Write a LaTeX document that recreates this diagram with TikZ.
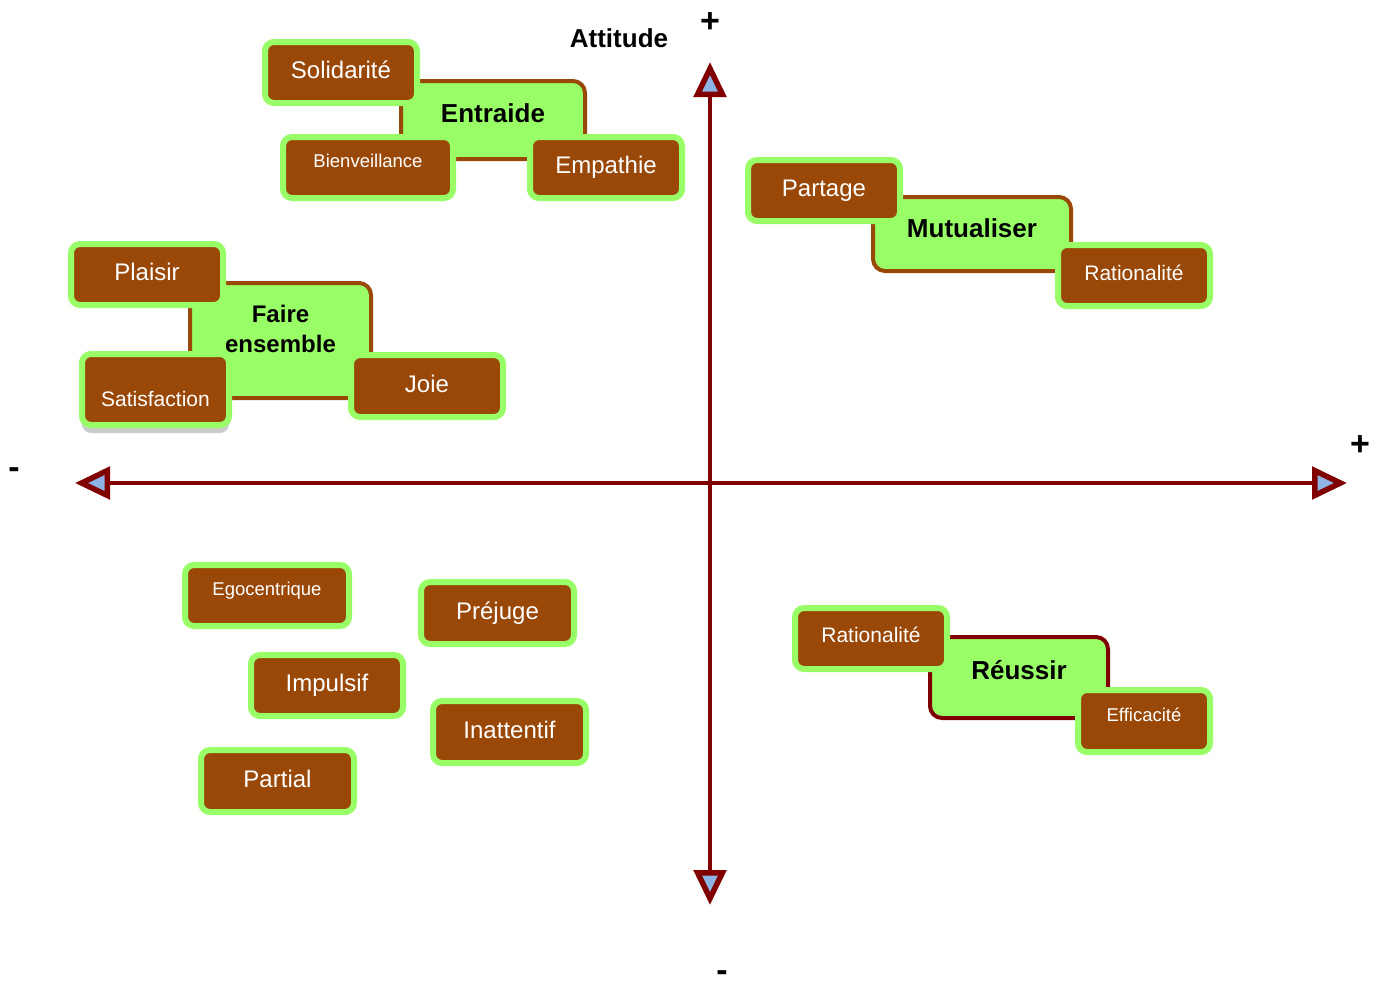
\documentclass[tikz,border=0pt]{standalone}
\usepackage{fontspec}
\setmainfont{Liberation Sans}
\usepackage{xcolor}
\usetikzlibrary{arrows.meta}
\usetikzlibrary{shadows}
\definecolor{boxbrown}{RGB}{153,72,8}
\definecolor{boxgreen}{RGB}{153,255,102}
\definecolor{axisred}{RGB}{128,0,0}
\definecolor{tipblue}{RGB}{141,180,227}
\tikzset{ trait/.style = {rectangle, rounded corners=9pt, draw=boxgreen, line width=6pt, fill=boxbrown, text=white, inner sep=0pt, minimum width=152pt, minimum height=61pt, font=\fontsize{24}{28}\selectfont, text height=17pt, text depth=5pt} }
\tikzset{ trait_mid/.style = {trait, font=\fontsize{21}{25}\selectfont, text height=15pt, text depth=5pt} }
\tikzset{ trait_small/.style = {trait, font=\fontsize{18.5}{22}\selectfont, text height=13pt, text depth=13pt} }
\tikzset{ theme/.style = {rectangle, rounded corners=12pt, draw=boxbrown, line width=4pt, fill=boxgreen, inner sep=0pt, align=center, font=\bfseries\fontsize{26}{30}\selectfont, text height=19pt} }
\tikzset{ sign/.style = {inner sep=0pt, font=\bfseries\fontsize{34}{34}\selectfont} }
\tikzset{ axis_line/.style = {draw=axisred, line width=4pt, {Triangle[length=35pt,width=32pt,line width=5.5pt,fill=tipblue]}-{Triangle[length=35pt,width=32pt,line width=5.5pt,fill=tipblue]}} }

\begin{document}
\begin{tikzpicture}[x=1pt,y=-1pt]
        \useasboundingbox (0,0) rectangle (1381,983);
        % axes
        \coordinate (left) at (75,483);
        \coordinate (right) at (1347,483);
        \coordinate (bottom) at (710,905);
        \coordinate (top) at (710,62);
        \draw[axis_line] (left) to (right);
        \draw[axis_line] (bottom) to (top);
        \node[sign] (xminus) at (14,473) {-};
        \node[sign] (xplus) at (1360,446) {+};
        \node[sign] (yplus) at (710,23) {+};
        \node[sign] (yminus) at (722,976) {-};
        \node[font=\bfseries\fontsize{26}{30}\selectfont] (attitude) at (619,38) {Attitude};
        % Entraide
        \node[theme, minimum width=184pt, minimum height=78pt, text depth=14pt] (entraide) at (493,120) {Entraide};
        \node[trait] (solidarite) at (341,72.5) {Solidarité};
        \node[trait_small, minimum width=170pt] (bienveillance) at (368,167.5) {Bienveillance};
        \node[trait] (empathie) at (606,167.5) {Empathie};
        % Mutualiser
        \node[theme, minimum width=198pt, minimum height=74pt, text depth=12pt] (mutualiser) at (972,234) {Mutualiser};
        \node[trait] (partage) at (824,190.5) {Partage};
        \node[trait_mid] (rationalite1) at (1134,275.5) {Rationalité};
        % Faire ensemble
        \node[theme, minimum width=181pt, minimum height=115pt, font=\bfseries\fontsize{24}{30}\selectfont, text height=47pt, text depth=24pt] (faire) at (280.5,340.5) {Faire\\ensemble};
        \node[trait] (plaisir) at (147,274.5) {Plaisir};
        \node[trait_mid, minimum width=147pt, minimum height=71pt, text height=34pt, text depth=0pt, drop shadow={shadow xshift=0pt, shadow yshift=-8pt, fill=black!20, opacity=1}] (satisfaction) at (155.5,389.5) {Satisfaction};
        \node[trait, minimum height=62pt] (joie) at (427,386) {Joie};
        % Reussir
        \node[theme, draw=axisred, minimum width=178pt, minimum height=81pt, text depth=16pt] (reussir) at (1019,677.5) {Réussir};
        \node[trait_mid, text depth=7pt] (rationalite2) at (871,638.5) {Rationalité};
        \node[trait_small, minimum width=132pt, minimum height=62pt] (efficacite) at (1144,721) {Efficacité};
        % sans lien
        \node[trait_small, minimum width=164pt] (egocentrique) at (267,595.5) {Egocentrique};
        \node[trait, minimum width=153pt, minimum height=62pt] (prejuge) at (497.5,613) {Préjuge};
        \node[trait] (impulsif) at (327,685.5) {Impulsif};
        \node[trait, minimum width=153pt, minimum height=62pt] (inattentif) at (509.5,732) {Inattentif};
        \node[trait, minimum width=153pt, minimum height=62pt] (partial) at (277.5,781) {Partial};
\end{tikzpicture}
\end{document}
